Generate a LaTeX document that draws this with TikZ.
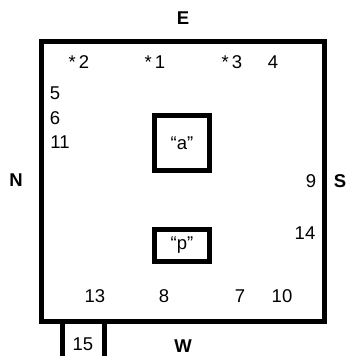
\documentclass[tikz,border=0pt]{standalone}
\usepackage{fontspec}
\setmainfont{Liberation Sans}
\usetikzlibrary{positioning}

\begin{document}
\begin{tikzpicture}[x=1pt,y=-1pt,
  font=\fontsize{18.5}{22}\selectfont,
  frame/.style={draw,line width=5pt},
  num/.style={inner sep=0pt},
  dir/.style={inner sep=0pt,font=\fontsize{18.5}{22}\selectfont\bfseries},
]
\useasboundingbox (0,0) rectangle (349,356);
\draw[frame] (41,41) rectangle (324.5,321.5);
\node[frame,minimum width=55pt,minimum height=55pt] (a) at (182,143) {``a''};
\node[frame,minimum width=55pt,minimum height=32pt] (p) at (182,245.5) {``p''};
% compass sides
\node[dir] (E) at (183,18) {E};
\node[dir] (N) at (16,180) {N};
\node[dir] (S) at (340,181) {S};
\node[dir] (W) at (183,346) {W};
% positions along the walls
\node[num] (n2) at (79,62) {*\,2};
\node[num] (n1) at (155,62) {*\,1};
\node[num] (n3) at (232,62) {*\,3};
\node[num] (n4) at (273,62) {4};
\node[num] (n5) at (55,93) {5};
\node[num] (n6) at (55,118) {6};
\node[num] (n11) at (60,142) {11};
\node[num] (n9) at (311,181) {9};
\node[num] (n14) at (305,233) {14};
\node[num] (n13) at (95,296) {13};
\node[num] (n8) at (164,296) {8};
\node[num] (n7) at (240,296) {7};
\node[num] (n10) at (282,296) {10};
\node[num] (n15) at (83,344) {15};
\draw[frame] (62,321.5) -- (62,360);
\draw[frame] (104,321.5) -- (104,360);
\end{tikzpicture}
\end{document}
